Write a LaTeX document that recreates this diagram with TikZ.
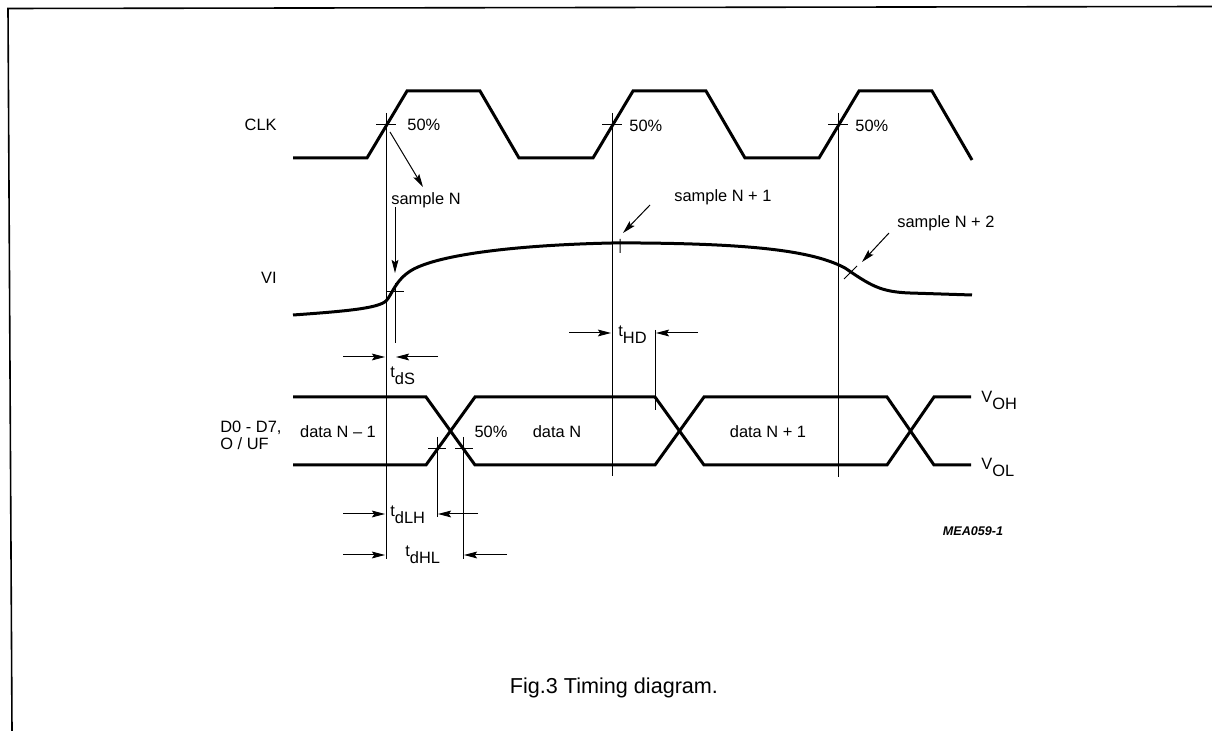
\documentclass[tikz,border=0pt]{standalone}
\usepackage{fontspec}
\setmainfont{Liberation Sans}
\usetikzlibrary{arrows.meta}
\newcommand{\indice}[2]{#1\raisebox{-0.42em}{#2}}

\begin{document}
\begin{tikzpicture}[
        x=0.5pt, y=-0.5pt,
        font=\fontsize{8.2}{8.6}\selectfont,
        semnal/.style={line width=1.5pt, line join=miter},
        ghid/.style={line width=0.5pt},
        sageata/.style={-{Stealth[length=2.3mm, width=1.2mm, inset=0.4mm]}, line width=0.5pt},
        eticheta/.style={inner sep=1pt},
        durata/.style={inner sep=1pt, anchor=base west},
    ]
        \useasboundingbox (0,0) rectangle (1212,731);
        \draw[line width=0.8pt] (12,731) -- (8,8.5) -- (1212,6.5);
        \node[eticheta, anchor=east] (clk) at (279,125) {CLK};
        \node[eticheta, anchor=east] (vi) at (279,278) {VI};
        \node[eticheta, anchor=west, align=left] (bus) at (218,435) {D0 - D7,\\O / UF};
        \draw[semnal] (293,158) -- (367,158) -- (407,91) -- (480,91) -- (519,158) -- (593,158)
            -- (633,91) -- (706,91) -- (745,158) -- (819,158) -- (859,91) -- (932,91) -- (972,160);
        \draw[semnal] (293,315) .. controls (350,311) and (378,308) .. (386,301)
            .. controls (392,295) and (395,280) .. (412,270)
            .. controls (440,254) and (520,245) .. (612,243) -- (640,243)
            .. controls (760,244) and (815,252) .. (845,268)
            .. controls (870,285) and (880,292) .. (910,293) -- (972,295);
        \draw[semnal] (293,397) -- (426,397) -- (475,465) -- (655,465) -- (704,397) -- (887,397)
            -- (934,465) -- (971,465);
        \draw[semnal] (293,465) -- (426,465) -- (475,397) -- (655,397) -- (704,465) -- (887,465)
            -- (934,397) -- (971,397);
        \draw[ghid] (376,125) -- (396,125) (602,125) -- (622,125) (828,125) -- (848,125);
        \draw[ghid] (386,113) -- (386,559) (612,113) -- (612,476) (838,113) -- (838,477);
        \draw[ghid] (387,292) -- (404,292) (395,283) -- (395,343);
        \draw[ghid] (620,239) -- (620,253) (844,279) -- (857,266);
        \draw[ghid] (428,449) -- (446,449) (455,449) -- (473,449);
        \draw[ghid] (437,437) -- (437,517) (463,437) -- (463,559) (655,330) -- (655,410);
        \node[eticheta, anchor=west] (m0) at (405,125) {50\%};
        \node[eticheta, anchor=west] (m1) at (627,126) {50\%};
        \node[eticheta, anchor=west] (m2) at (853,126) {50\%};
        \node[eticheta, anchor=west] (esN) at (389,200) {sample N};
        \node[eticheta, anchor=west] (esN1) at (672,197) {sample N + 1};
        \node[eticheta, anchor=west] (esN2) at (895,223) {sample N + 2};
        \draw[sageata] (390,132) -- (423,187);
        \draw[sageata] (395,207) -- (395,273);
        \draw[sageata] (650,205) -- (623,233);
        \draw[sageata] (889,233) -- (862,262);
        \node[eticheta] (dN0) at (338,432) {data N \textendash{} 1};
        \node[eticheta] (m3) at (491,432) {50\%};
        \node[eticheta] (dN) at (557,432) {data N};
        \node[eticheta] (dN1) at (768,432) {data N + 1};
        \node[durata] (voh) at (979,403) {\indice{V}{OH}};
        \node[durata] (vol) at (979,470) {\indice{V}{OL}};
        \node[durata] (tds) at (388,378) {\indice{t}{dS}};
        \node[durata] (thd) at (616,337) {\indice{t}{HD}};
        \node[durata] (tdlh) at (388,517) {\indice{t}{dLH}};
        \node[durata] (tdhl) at (403,557) {\indice{t}{dHL}};
        \draw[sageata] (343,357) -- (385,357);
        \draw[sageata] (438,357) -- (396,357);
        \draw[sageata] (569,333) -- (611,333);
        \draw[sageata] (698,333) -- (656,333);
        \draw[sageata] (343,514) -- (385,514);
        \draw[sageata] (478,514) -- (438,514);
        \draw[sageata] (343,555) -- (385,555);
        \draw[sageata] (507,555) -- (464,555);
        \node[font=\fontsize{6.3}{7}\selectfont\bfseries\itshape] (cod) at (973,531) {MEA059-1};
        \node[font=\fontsize{10.8}{12}\selectfont] (titlu) at (614,688) {Fig.3 Timing diagram.};
    \end{tikzpicture}
\end{document}
